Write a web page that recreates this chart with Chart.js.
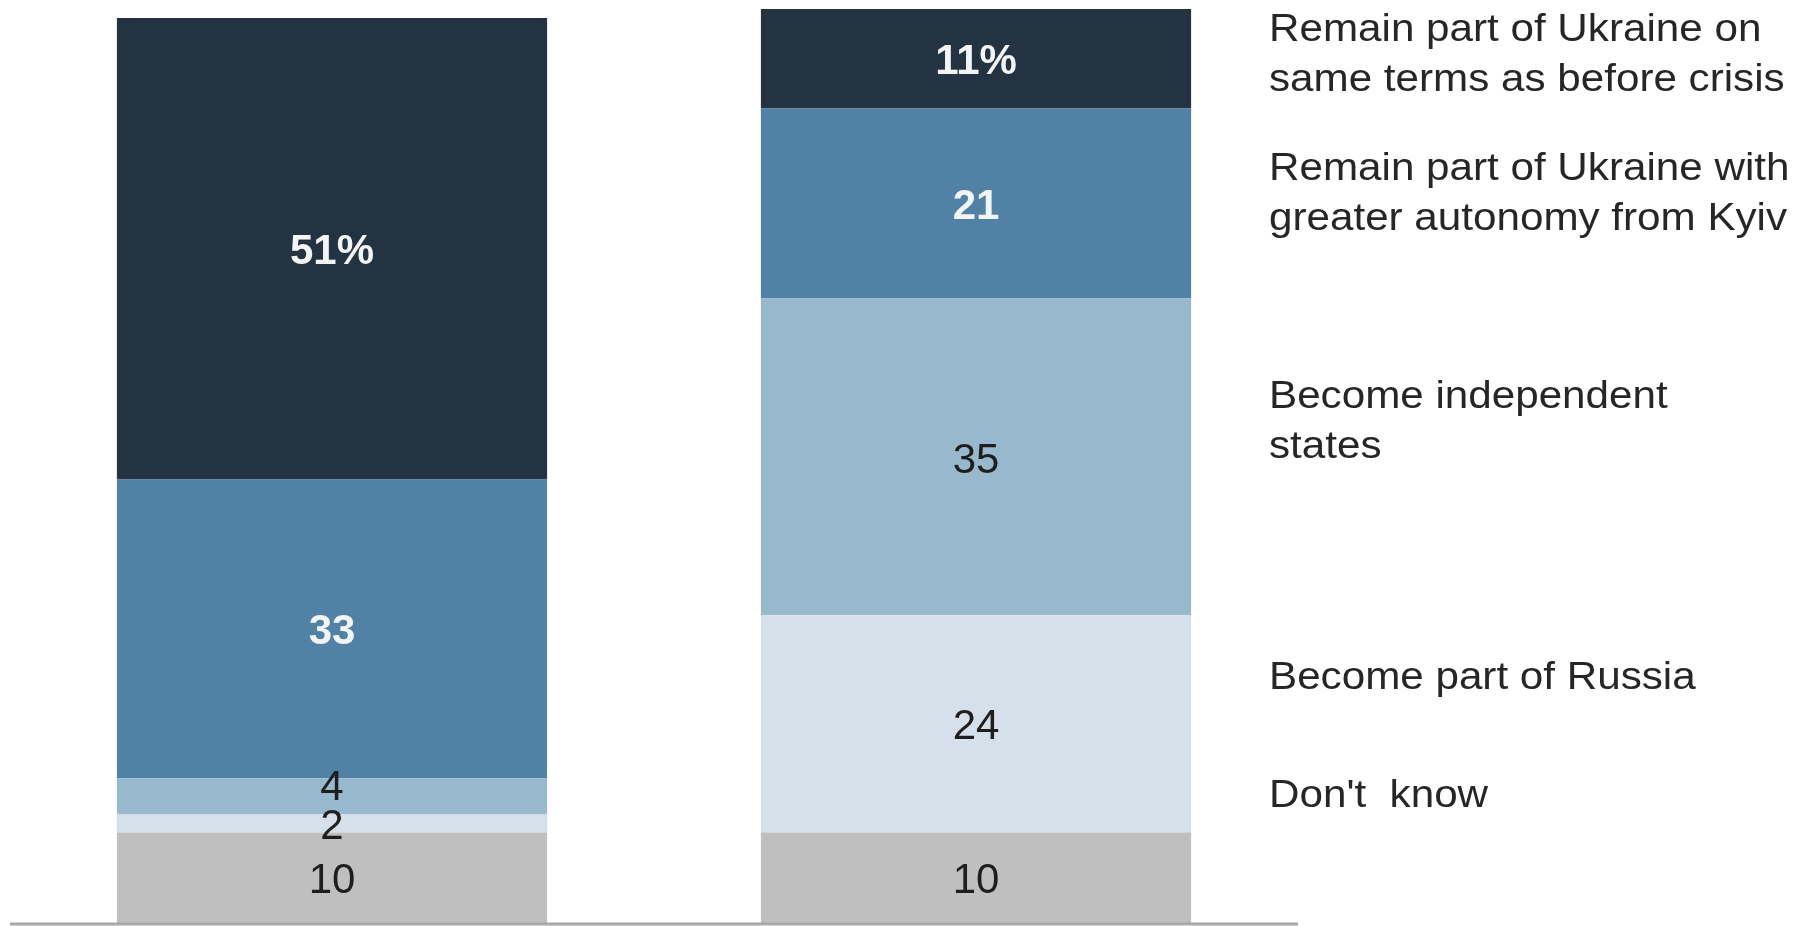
<!DOCTYPE html>
<html>
<head>
<meta charset="utf-8">
<script src="https://cdn.jsdelivr.net/npm/chart.js@4/dist/chart.umd.min.js"></script>
<style>
  html, body { margin: 0; padding: 0; background: #fff; }
  #wrap { width: 1814px; height: 926px; position: relative; }
</style>
</head>
<body>
<div id="wrap"><canvas id="barChart"></canvas></div>
<script>
// Two survey groups (unlabelled in the original)
const groups = ["Group A", "Group B"];

// Stack segments, bottom to top
const dontKnow = [10, 10];
const partOfRussia = [2, 24];
const independentStates = [4, 35];
const greaterAutonomy = [33, 21];
const sameTerms = [51, 11];

const seriesNames = [
  "Don't  know",
  "Become part of Russia",
  "Become independent states",
  "Remain part of Ukraine with greater autonomy from Kyiv",
  "Remain part of Ukraine on same terms as before crisis"
];
const seriesColors = ["#bfbfbf", "#d6e0ea", "#97b8cd", "#5182a5", "#233341"];

// Text lines shown to the right of the bars
const legendLines = [
  "Remain part of Ukraine on",
  "same terms as before crisis",
  "Remain part of Ukraine with",
  "greater autonomy from Kyiv",
  "Become independent",
  "states",
  "Become part of Russia",
  "Don't  know"
];
const legendBaselines = [41, 91, 180, 230, 408, 458, 689, 807];

const FONT = '"Liberation Sans", Arial, sans-serif';

const segmentLabels = {
  id: "segmentLabels",
  afterDatasetsDraw(chart) {
    const ctx = chart.ctx;
    ctx.save();
    ctx.textAlign = "center";
    ctx.textBaseline = "middle";
    chart.data.datasets.forEach((ds, i) => {
      const meta = chart.getDatasetMeta(i);
      const light = i >= 3;
      meta.data.forEach((bar, j) => {
        const v = ds.data[j];
        let txt = String(v);
        if (i === chart.data.datasets.length - 1) txt += "%";
        let { x, y } = bar.getCenterPoint();
        y += 4;
        // the small "4" sits a bit higher so it doesn't touch the "2"
        if (i === 2 && j === 0) y -= 12;
        ctx.font = (light ? "bold " : "") + "42px " + FONT;
        ctx.fillStyle = light ? "#f2f4f6" : "#1e1e1e";
        ctx.fillText(txt, x, y);
      });
    });

    // baseline
    const ys = chart.scales.y;
    const y0 = ys.getPixelForValue(0);
    ctx.strokeStyle = "#a8a8a8";
    ctx.lineWidth = 3;
    ctx.beginPath();
    ctx.moveTo(chart.chartArea.left, y0 + 1);
    ctx.lineTo(chart.chartArea.right, y0 + 1);
    ctx.stroke();

    // right-side labels
    ctx.textAlign = "left";
    ctx.textBaseline = "alphabetic";
    ctx.fillStyle = "#262626";
    ctx.font = "38px " + FONT;
    legendLines.forEach((line, k) => {
      ctx.save();
      ctx.translate(1269, legendBaselines[k]);
      ctx.scale(1.11, 1);
      ctx.fillText(line, 0, 0);
      ctx.restore();
    });
    ctx.restore();
  }
};

const barChartCanvas = document.getElementById("barChart").getContext("2d");
new Chart(barChartCanvas, {
  type: "bar",
  data: {
    labels: groups,
    datasets: [dontKnow, partOfRussia, independentStates, greaterAutonomy, sameTerms].map((d, i) => ({
      label: seriesNames[i],
      data: d,
      backgroundColor: seriesColors[i],
      borderWidth: 0,
      barPercentage: 1,
      categoryPercentage: 0.668
    }))
  },
  options: {
    responsive: true,
    maintainAspectRatio: false,
    animation: false,
    layout: { padding: { left: 10, right: 516, top: 0, bottom: 3 } },
    plugins: {
      legend: { display: false },
      tooltip: { enabled: false }
    },
    scales: {
      x: { stacked: true, display: false },
      y: { stacked: true, display: false, min: 0, max: 102 }
    }
  },
  plugins: [segmentLabels]
});
</script>
</body>
</html>
